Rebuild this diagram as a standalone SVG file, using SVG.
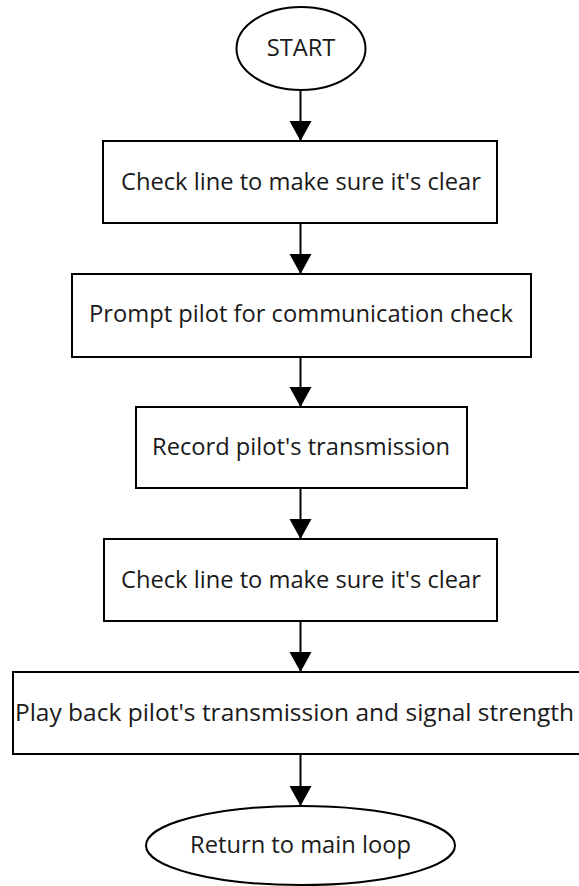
<svg xmlns="http://www.w3.org/2000/svg" width="579" height="886" viewBox="0 0 579 886">
<style>
.s{fill:#fff;stroke:#000;stroke-width:2}
.t{font-family:"Open Sans","Noto Sans",sans-serif;font-size:23.7px;fill:#1a1a1a;text-anchor:middle}
.c{stroke:#000;stroke-width:2;fill:none}
</style>
<defs>
<marker id="ah" markerUnits="userSpaceOnUse" markerWidth="22" markerHeight="26" refX="20" refY="11" orient="auto">
<path d="M0,0 L20,11 L0,22 Z" fill="#000"/>
</marker>
</defs>
<rect width="579" height="886" fill="#fff"/>
<g id="connectors">
<line class="c" x1="300.5" y1="90" x2="300.5" y2="141" marker-end="url(#ah)"/>
<line class="c" x1="300.5" y1="223" x2="300.5" y2="274" marker-end="url(#ah)"/>
<line class="c" x1="300.5" y1="357" x2="300.5" y2="407" marker-end="url(#ah)"/>
<line class="c" x1="300.5" y1="488" x2="300.5" y2="539" marker-end="url(#ah)"/>
<line class="c" x1="300.5" y1="621" x2="300.5" y2="672" marker-end="url(#ah)"/>
<line class="c" x1="300.5" y1="754" x2="300.5" y2="806" marker-end="url(#ah)"/>
</g>
<g id="start">
<ellipse class="s" cx="301" cy="48.5" rx="64.5" ry="41.5"/>
<text class="t" x="301" y="56">START</text>
</g>
<g id="check1">
<rect class="s" x="103" y="141" width="394" height="82"/>
<text class="t" x="301" y="190">Check line to make sure it's clear</text>
</g>
<g id="prompt">
<rect class="s" x="72" y="274" width="459" height="83"/>
<text class="t" x="301" y="322">Prompt pilot for communication check</text>
</g>
<g id="record">
<rect class="s" x="136" y="407" width="331" height="81"/>
<text class="t" x="301" y="455">Record pilot's transmission</text>
</g>
<g id="check2">
<rect class="s" x="104" y="539" width="393" height="82"/>
<text class="t" x="301" y="588">Check line to make sure it's clear</text>
</g>
<g id="playback">
<rect class="s" x="13" y="672" width="576" height="82"/>
<text class="t" x="294.5" y="721" style="font-size:24.5px">Play back pilot's transmission and signal strength</text>
</g>
<g id="return">
<ellipse class="s" cx="300.5" cy="845.5" rx="154.5" ry="39.5"/>
<text class="t" x="300.5" y="853">Return to main loop</text>
</g>
</svg>
